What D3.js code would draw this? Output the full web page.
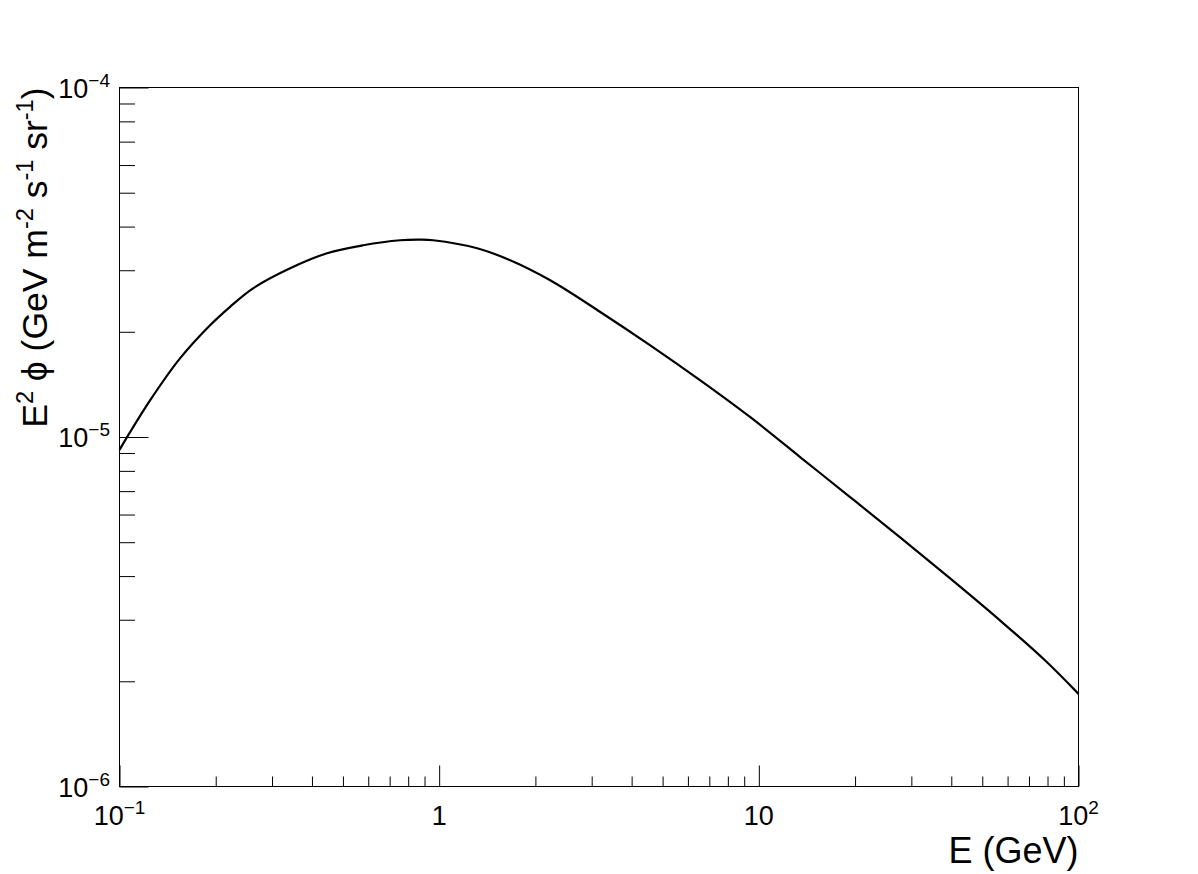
<!DOCTYPE html>
<html>
<head>
<meta charset="utf-8">
<script src="https://cdn.jsdelivr.net/npm/d3@7"></script>
<style>
  html, body { margin: 0; padding: 0; background: #fff; }
  svg { display: block; font-family: "Liberation Sans", Arial, Helvetica, sans-serif; }
</style>
</head>
<body>
<svg id="chart" width="1198" height="874"></svg>
<script>
// ---- data ----
const energy = [0.1, 0.1246, 0.1546, 0.192, 0.2218, 0.2617, 0.3418, 0.4461, 0.5783, 0.755, 0.87, 0.9576,
                1.315, 1.668, 2.225, 3.191, 4.575, 6.56, 9.406, 13.49, 19.34, 27.73, 39.76, 57.01, 78.82, 100];
const flux = [9.19e-6, 1.272e-5, 1.678e-5, 2.088e-5, 2.358e-5, 2.663e-5, 3.039e-5, 3.355e-5, 3.537e-5, 3.656e-5, 3.67e-5, 3.656e-5,
              3.468e-5, 3.204e-5, 2.808e-5, 2.279e-5, 1.829e-5, 1.452e-5, 1.139e-5, 8.75e-6, 6.72e-6, 5.152e-6, 3.932e-6, 2.979e-6, 2.289e-6, 1.841e-6];
const xMajorTicks = [0.1, 1, 10, 100];
const xTickBase = ["10", "1", "10", "10"];
const xTickExp = ["\u22121", "", "", "2"];
const yMajorTicks = [1e-6, 1e-5, 1e-4];
const yTickBase = ["10", "10", "10"];
const yTickExp = ["\u22126", "\u22125", "\u22124"];
const xTitle = "E (GeV)";
const yTitleParts = [["E", false], ["2", true], [" \u03d5 (GeV m", false], ["-2", true], [" s", false], ["-1", true], [" sr", false], ["-1", true], [")", false]];

// ---- layout ----
const pL = 119.5, pR = 1078.5, pT = 87.5, pB = 786.5;
const svg = d3.select("#chart");

const x = d3.scaleLog().domain([0.1, 100]).range([pL, pR]);
const y = d3.scaleLog().domain([1e-6, 1e-4]).range([pB, pT]);

const minor = (lo, hi) => {
  const out = [];
  for (let d = lo; d < hi * 0.999; d *= 10) for (let k = 2; k <= 9; k++) out.push(d * k);
  return out;
};

// frame
svg.append("rect").attr("x", pL).attr("y", pT).attr("width", pR - pL).attr("height", pB - pT)
  .attr("fill", "none").attr("stroke", "#000").attr("stroke-width", 1);

// x axis ticks (inward)
const xMinorAxis = d3.axisBottom(x).tickValues(minor(0.1, 100)).tickSize(-10).tickFormat("");
const xMajorAxis = d3.axisBottom(x).tickValues(xMajorTicks).tickSize(-21).tickFormat("");
[xMinorAxis, xMajorAxis].forEach(ax => {
  const g = svg.append("g").attr("transform", `translate(0,${pB})`).call(ax);
  g.select(".domain").remove();
  g.selectAll("line").attr("stroke", "#000").attr("stroke-width", 1);
});

// y axis ticks (inward)
const yMinorAxis = d3.axisLeft(y).tickValues(minor(1e-6, 1e-4)).tickSize(-15.5).tickFormat("");
const yMajorAxis = d3.axisLeft(y).tickValues(yMajorTicks).tickSize(-29).tickFormat("");
[yMinorAxis, yMajorAxis].forEach(ax => {
  const g = svg.append("g").attr("transform", `translate(${pL},0)`).call(ax);
  g.select(".domain").remove();
  g.selectAll("line").attr("stroke", "#000").attr("stroke-width", 1);
});

// x tick labels
xMajorTicks.forEach((v, i) => {
  const t = svg.append("text").attr("x", x(v)).attr("y", 825).attr("text-anchor", "middle")
    .attr("font-size", 27).attr("fill", "#000");
  t.append("tspan").text(xTickBase[i]);
  if (xTickExp[i]) t.append("tspan").attr("dy", -11).attr("font-size", 19).text(xTickExp[i]);
});

// y tick labels
yMajorTicks.forEach((v, i) => {
  const t = svg.append("text").attr("x", 110).attr("y", y(v) + 10).attr("text-anchor", "end")
    .attr("font-size", 27).attr("fill", "#000");
  t.append("tspan").text(yTickBase[i]);
  t.append("tspan").attr("dy", -11).attr("font-size", 19).text(yTickExp[i]);
});

// titles
svg.append("text").attr("x", pR).attr("y", 863).attr("text-anchor", "end")
  .attr("font-size", 36).attr("fill", "#000").text(xTitle);

const yt = svg.append("text").attr("transform", `translate(47,${pT}) rotate(-90)`)
  .attr("text-anchor", "end").attr("font-size", 35.5).attr("fill", "#000");
let sup = false;
yTitleParts.forEach(([s, isSup]) => {
  const ts = yt.append("tspan").text(s);
  if (isSup && !sup) ts.attr("dy", -14).attr("font-size", 23.5);
  else if (!isSup && sup) ts.attr("dy", 14);
  else if (isSup) ts.attr("font-size", 23.5);
  sup = isSup;
});

// curve
const pts = energy.map((e, i) => [e, flux[i]]);
const line = d3.line().x(d => x(d[0])).y(d => y(d[1])).curve(d3.curveCatmullRom.alpha(0.5));
svg.append("path").datum(pts).attr("d", line).attr("fill", "none")
  .attr("stroke", "#000").attr("stroke-width", 2.2);
</script>
</body>
</html>
